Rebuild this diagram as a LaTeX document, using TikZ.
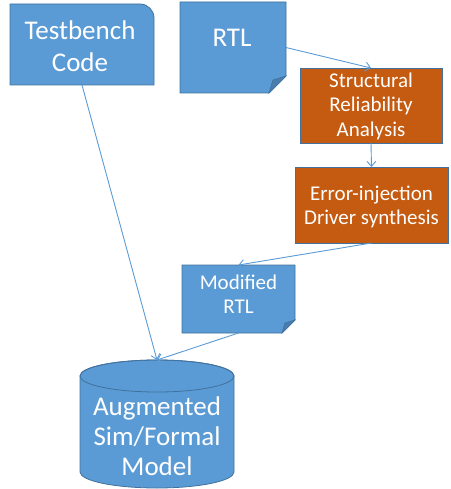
\documentclass[tikz,border=0pt]{standalone}
\usepackage{fontspec}
\setmainfont{Carlito}
\usetikzlibrary{arrows.meta}
\definecolor{boxblue}{HTML}{5B9BD5}
\definecolor{edgeblue}{HTML}{41719C}
\definecolor{foldblue}{HTML}{4A7DAE}
\definecolor{boxorange}{HTML}{C55A11}
\definecolor{linkblue}{HTML}{5B9BD5}

\begin{document}
\begin{tikzpicture}[x=1pt,y=1pt,
  region/.style={inner sep=0pt, outer sep=0pt, draw=none},
  outline/.style={fill=boxblue, draw=edgeblue, line width=0.8pt},
  flowbox/.style={region, fill=boxorange, draw=edgeblue, line width=0.8pt},
  boxtext/.style={text=white, align=center, inner sep=0pt},
  big/.style={font=\fontsize{27}{32}\selectfont},
  mid/.style={font=\fontsize{21}{24.5}\selectfont},
  link/.style={draw=linkblue, line width=0.9pt, -{Straight Barb[length=5pt,width=9pt]}}
]
\useasboundingbox (0,0) rectangle (450,-489);

% Testbench code: rectangle with a rounded upper-right corner
\node[region, minimum width=144, minimum height=81] (tb) at (82,-44.5) {};
\path[outline] (tb.south west) -- (tb.north west) -- ([xshift=-14]tb.north east)
  arc[start angle=90, end angle=0, radius=14] -- (tb.south east) -- cycle;
\node[boxtext, big] (tbt) at (80,-46) {Testbench\\Code};

% RTL: document with a folded lower-right corner
\node[region, minimum width=106, minimum height=91] (rtl) at (233,-47.5) {};
\path[outline] (rtl.south west) -- (rtl.north west) -- (rtl.north east)
  -- ([yshift=17]rtl.south east) -- ([xshift=-17]rtl.south east) -- cycle;
\path[fill=foldblue, draw=edgeblue, line width=0.6pt] ([xshift=-17]rtl.south east)
  -- ([xshift=-13,yshift=13]rtl.south east) -- ([yshift=17]rtl.south east) -- cycle;
\node[boxtext, big] (rtlt) at (232,-38) {RTL};

% Analysis and synthesis steps
\node[flowbox, minimum width=142, minimum height=75] (sra) at (371,-105.5) {};
\node[boxtext, mid] (srat) at (371,-106) {Structural\\Reliability\\Analysis};
\node[flowbox, minimum width=153, minimum height=76] (eid) at (371.5,-205) {};
\node[boxtext, mid] (eidt) at (371.5,-207) {Error-injection\\Driver synthesis};

% Modified RTL: document with a folded lower-right corner
\node[region, minimum width=113, minimum height=68] (mrtl) at (238.5,-299) {};
\path[outline] (mrtl.south west) -- (mrtl.north west) -- (mrtl.north east)
  -- ([yshift=13]mrtl.south east) -- ([xshift=-13]mrtl.south east) -- cycle;
\path[fill=foldblue, draw=edgeblue, line width=0.6pt] ([xshift=-13]mrtl.south east)
  -- ([xshift=-10,yshift=10]mrtl.south east) -- ([yshift=13]mrtl.south east) -- cycle;
\node[boxtext, mid] (mrtlt) at (238.5,-294) {Modified\\RTL};

% Augmented model: cylinder
\node[region, minimum width=154, minimum height=128] (cyl) at (157,-424) {};
\path[outline] (80,-376) -- (80,-472)
  arc[start angle=180, end angle=360, x radius=77, y radius=16]
  -- (234,-376) arc[start angle=0, end angle=180, x radius=77, y radius=16] -- cycle;
\draw[edgeblue, line width=0.8pt] (157,-376) ellipse[x radius=77, y radius=16];
\node[boxtext, big, font=\fontsize{27}{30}\selectfont] (cylt) at (157,-436) {Augmented\\Sim/Formal\\Model};

% Flow connectors
\draw[link] (rtl.east) -- (sra.north);
\draw[link] (sra.south) -- (eid.north);
\draw[link] (eid.south) -- (mrtl.north);
\draw[link] (tb.south) -- (cyl.north);
\draw[link] (mrtl.south) -- (cyl.north);
\end{tikzpicture}
\end{document}
